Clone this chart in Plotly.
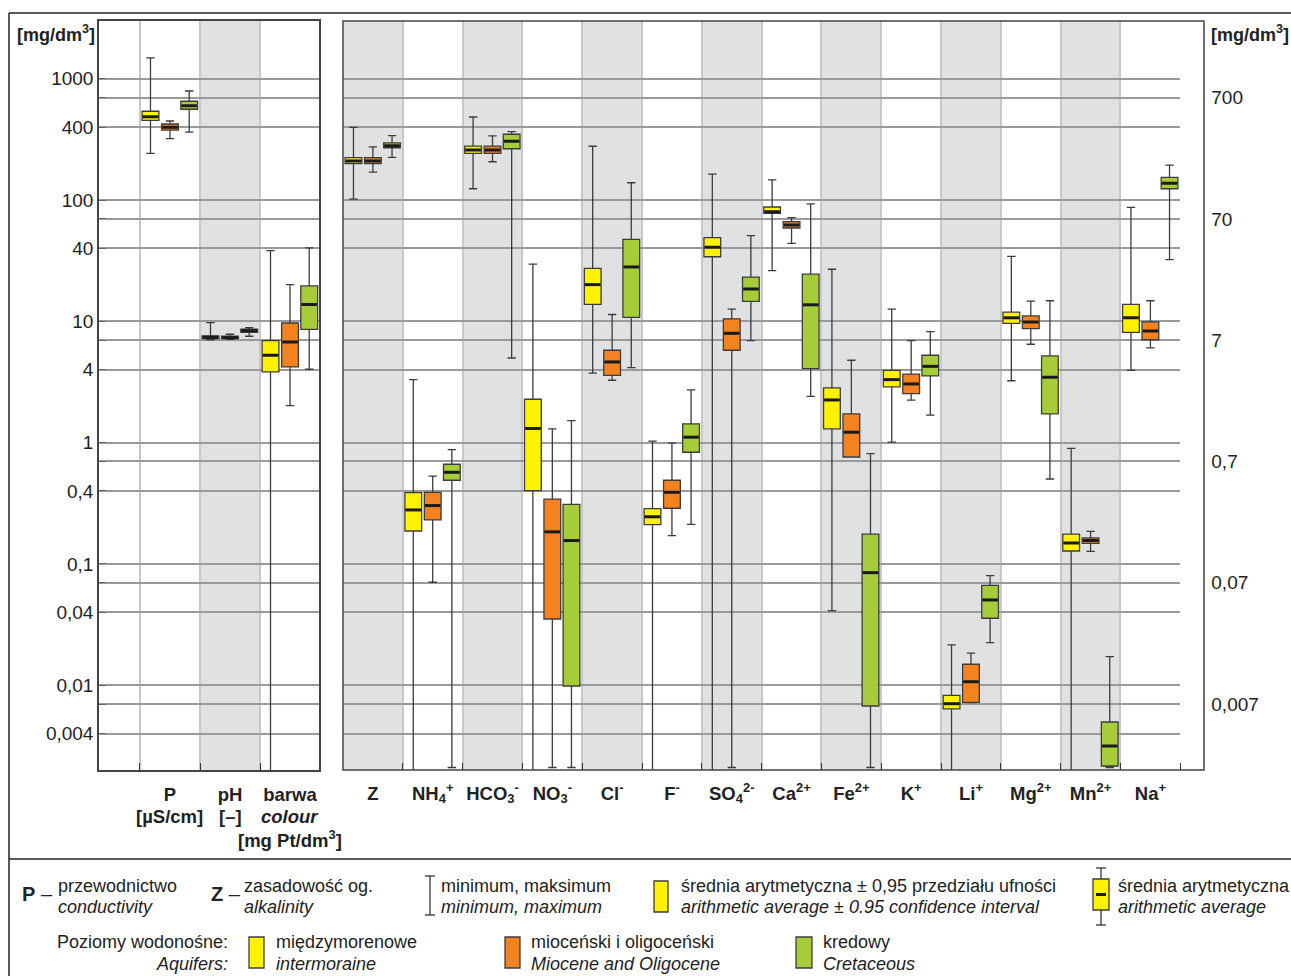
import plotly.graph_objects as go

W, H = 1291, 976

def px(x):
    return x / W

def py(y):
    return 1 - y / H

FONT = "Liberation Sans, Arial, Helvetica, sans-serif"

# ---------------- DATA ----------------
left_cats = ["P", "pH", "barwa"]
right_cats = ["Z", "NH<sub>4</sub><sup>+</sup>", "HCO<sub>3</sub><sup>-</sup>", "NO<sub>3</sub><sup>-</sup>",
              "Cl<sup>-</sup>", "F<sup>-</sup>", "SO<sub>4</sub><sup>2-</sup>", "Ca<sup>2+</sup>",
              "Fe<sup>2+</sup>", "K<sup>+</sup>", "Li<sup>+</sup>", "Mg<sup>2+</sup>",
              "Mn<sup>2+</sup>", "Na<sup>+</sup>"]

# intermoraine aquifers (yellow)
int_left_min = [243, 7.05, 0]
int_left_lo = [455, 7.2, 3.83]
int_left_mean = [487, 7.4, 5.26]
int_left_hi = [540, 7.6, 6.93]
int_left_max = [1490, 9.76, 38.3]

int_right_min = [102, 0, 124, 0, 3.75, 0, 0, 26.2, 0.0412, 1.01, 0, 3.24, 0, 3.95]
int_right_lo = [200, 0.187, 243, 0.402, 13.8, 0.211, 34.1, 77.8, 1.30, 2.88, 0.00638, 9.64, 0.128, 8.13]
int_right_mean = [210, 0.279, 259, 1.31, 20.1, 0.245, 40.8, 80.2, 2.25, 3.31, 0.00705, 10.7, 0.149, 10.7]
int_right_hi = [224, 0.387, 279, 2.28, 27.4, 0.286, 49.0, 87.7, 2.83, 3.95, 0.00827, 11.9, 0.176, 13.8]
int_right_max = [398, 3.31, 484, 29.7, 278, 1.03, 164, 147, 26.9, 12.6, 0.0215, 34.4, 0.899, 87.2]

# Miocene and Oligocene aquifers (orange)
mio_left_min = [321, 7.1, 2.02]
mio_left_lo = [378, 7.2, 4.21]
mio_left_mean = [398, 7.35, 6.76]
mio_left_hi = [424, 7.55, 9.7]
mio_left_max = [449, 7.83, 20.1]

mio_right_min = [170, 0.0707, 207, 0.0021, 3.27, 0.171, 0.0021, 44.0, 0.762, 2.24, 0.0072, 6.48, 0.127, 6.04]
mio_right_lo = [200, 0.231, 243, 0.0352, 3.59, 0.288, 5.78, 58.9, 0.762, 2.54, 0.00724, 8.71, 0.148, 7.06]
mio_right_mean = [210, 0.303, 259, 0.184, 4.63, 0.390, 7.98, 62.4, 1.22, 3.05, 0.0107, 9.89, 0.156, 8.34]
mio_right_hi = [224, 0.390, 279, 0.343, 5.78, 0.490, 10.5, 66.4, 1.73, 3.68, 0.0149, 11.1, 0.164, 9.89]
mio_right_max = [275, 0.531, 338, 1.30, 11.4, 0.99, 12.6, 71.6, 4.78, 6.93, 0.0184, 14.7, 0.186, 14.8]

# Cretaceous aquifer (green)
cre_left_min = [364, 7.54, 4.03]
cre_left_lo = [561, 8.13, 8.6]
cre_left_mean = [600, 8.38, 13.8]
cre_left_hi = [653, 8.65, 19.6]
cre_left_max = [793, 8.87, 40.3]

cre_right_min = [225, 0.0021, 4.99, 0.0021, 4.15, 0.212, 6.93, 2.41, 0.0021, 1.69, 0.0225, 0.502, 0.0021, 32.3]
cre_right_lo = [270, 0.490, 265, 0.00986, 10.8, 0.834, 14.6, 4.08, 0.00675, 3.55, 0.0357, 1.73, 0.00216, 124]
cre_right_mean = [281, 0.570, 305, 0.156, 28.1, 1.11, 18.5, 13.7, 0.0848, 4.26, 0.0505, 3.46, 0.00316, 138]
cre_right_hi = [296, 0.664, 349, 0.310, 47.5, 1.43, 23.2, 24.5, 0.176, 5.26, 0.0667, 5.19, 0.00498, 154]
cre_right_max = [340, 0.875, 367, 1.52, 139, 2.72, 50.9, 92.9, 0.812, 8.22, 0.0801, 14.8, 0.0172, 194]

left_tick_vals = [1000, 400, 100, 40, 10, 4, 1, 0.4, 0.1, 0.04, 0.01, 0.004]
left_tick_text = ["1000", "400", "100", "40", "10", "4", "1", "0,4", "0,1", "0,04", "0,01", "0,004"]
right_tick_vals = [700, 70, 7, 0.7, 0.07, 0.007]
right_tick_text = ["700", "70", "7", "0,7", "0,07", "0,007"]

# ---------------- STYLE ----------------
YELLOW, ORANGE, GREEN = "#fff200", "#f4821f", "#a6cd39"
SHADE = "#e0e1e3"
HGRID = "#9a9a9a"
VGRID = "#c8c8c8"
EDGE = "#444444"

series = [
    (YELLOW, -0.325, (int_left_min, int_left_lo, int_left_mean, int_left_hi, int_left_max),
     (int_right_min, int_right_lo, int_right_mean, int_right_hi, int_right_max)),
    (ORANGE, 0.0, (mio_left_min, mio_left_lo, mio_left_mean, mio_left_hi, mio_left_max),
     (mio_right_min, mio_right_lo, mio_right_mean, mio_right_hi, mio_right_max)),
    (GREEN, 0.32, (cre_left_min, cre_left_lo, cre_left_mean, cre_left_hi, cre_left_max),
     (cre_right_min, cre_right_lo, cre_right_mean, cre_right_hi, cre_right_max)),
]

FLOOR = 1e-6  # zero minimum values drawn below the axis

fig = go.Figure()

for color, off, left, right in series:
    for (mn, lo, me, hi, mx), xa, ya in ((left, "x", "y"), (right, "x2", "y2")):
        xs = [i + off for i in range(len(me))]
        fig.add_trace(go.Box(
            x=xs, q1=lo, median=me, q3=hi,
            lowerfence=[v if v > 0 else FLOOR for v in mn], upperfence=mx,
            orientation="v", width=0.28, whiskerwidth=0.5, boxpoints=False,
            fillcolor=color, line=dict(color="#3c3c3c", width=1.3),
            xaxis=xa, yaxis=ya, showlegend=False, hoverinfo="skip"))
        fig.add_trace(go.Scatter(
            x=xs, y=me, mode="markers",
            marker=dict(symbol="line-ew", size=11, color="#1a1a1a",
                        line=dict(width=3, color="#1a1a1a")),
            xaxis=xa, yaxis=ya, showlegend=False, hoverinfo="skip"))

YR = [-2.6985, 3.4765]
YDOM = [py(770), py(21)]

tickfont = dict(family=FONT, size=19, color="#222")
catfont = dict(family=FONT, size=18.5, color="#222")

fig.update_layout(
    width=W, height=H,
    margin=dict(l=0, r=0, t=0, b=0),
    paper_bgcolor="white", plot_bgcolor="white",
    boxmode="overlay",
    font=dict(family=FONT, color="#222"),
    xaxis=dict(domain=[px(99), px(319.3)], range=[-1.183, 2.488], anchor="y",
               tickmode="array", tickvals=[0, 1, 2],
               ticktext=["<b>%s</b>" % c for c in left_cats], tickfont=catfont,
               ticks="", showgrid=False, zeroline=False, ticklabelstandoff=7,
               showline=True, linecolor=EDGE, linewidth=1.5, mirror=True,
               minor=dict(tickmode="array", tickvals=[-0.5, 0.5, 1.5], showgrid=True,
                          gridcolor=VGRID, gridwidth=1.5, ticks="inside", ticklen=7,
                          tickcolor="#333", tickwidth=1.3)),
    yaxis=dict(type="log", domain=YDOM, range=YR, anchor="x",
               tickmode="array", tickvals=left_tick_vals, ticktext=left_tick_text,
               tickfont=tickfont, ticks="inside", ticklen=7, tickcolor="#666", tickwidth=1.2,
               showgrid=True, gridcolor=HGRID, gridwidth=1.5, zeroline=False,
               showline=True, linecolor=EDGE, linewidth=1.5, mirror=True,
               minor=dict(tickmode="array", tickvals=right_tick_vals, showgrid=True,
                          gridcolor=HGRID, gridwidth=1.5, ticks="inside", ticklen=7,
                          tickcolor="#666", tickwidth=1.2)),
    xaxis2=dict(domain=[px(343), px(1180.3)], range=[-0.5, 13.5], anchor="y2",
                tickmode="array", tickvals=list(range(14)),
                ticktext=["<b>%s</b>" % c for c in right_cats], tickfont=catfont,
                ticks="", showgrid=False, zeroline=False, showline=False, ticklabelstandoff=10,
                minor=dict(tickmode="array", tickvals=[i + 0.5 for i in range(14)], showgrid=True,
                           gridcolor=VGRID, gridwidth=1.5, ticks="inside", ticklen=7,
                           tickcolor="#333", tickwidth=1.3)),
    yaxis2=dict(type="log", domain=YDOM, range=YR, anchor="x2", side="right",
                tickmode="array", tickvals=right_tick_vals, ticktext=right_tick_text,
                tickfont=tickfont, ticks="", ticklabelstandoff=30,
                showgrid=True, gridcolor=HGRID, gridwidth=1.5, zeroline=False, showline=False,
                minor=dict(tickmode="array", tickvals=left_tick_vals, showgrid=True,
                           gridcolor=HGRID, gridwidth=1.5, ticks="")),
)

shapes = []
# shaded category bands
shapes.append(dict(type="rect", xref="x", yref="y domain", x0=0.5, x1=1.5, y0=0, y1=1,
                   fillcolor=SHADE, line=dict(width=0), layer="below"))
for i in range(0, 14, 2):
    shapes.append(dict(type="rect", xref="x2", yref="y2 domain", x0=i - 0.5, x1=i + 0.5, y0=0, y1=1,
                       fillcolor=SHADE, line=dict(width=0), layer="below"))
# right panel frame (extends past the grid area)
shapes.append(dict(type="rect", xref="paper", yref="paper", x0=px(343), x1=px(1204),
                   y0=py(770), y1=py(21), line=dict(color=EDGE, width=1.5), layer="above"))
# outer frame lines
for (x0, y0, x1, y1) in [(9, 13, 1291, 13), (9, 13, 9, 976), (9, 859, 1291, 859)]:
    shapes.append(dict(type="line", xref="paper", yref="paper", x0=px(x0), y0=py(y0),
                       x1=px(x1), y1=py(y1), line=dict(color="#222", width=1.5)))

# legend symbols
def pline(x0, y0, x1, y1, color="#333", width=1.3):
    shapes.append(dict(type="line", xref="paper", yref="paper", x0=px(x0), y0=py(y0),
                       x1=px(x1), y1=py(y1), line=dict(color=color, width=width)))

def prect(x0, y0, x1, y1, fill):
    shapes.append(dict(type="rect", xref="paper", yref="paper", x0=px(x0), y0=py(y1),
                       x1=px(x1), y1=py(y0), fillcolor=fill, line=dict(color="#3c3c3c", width=1.3)))

# min/max whisker symbol
pline(430, 876, 430, 915)
pline(425, 876, 435, 876)
pline(425, 915, 435, 915)
# confidence box symbol
prect(654, 881, 668, 912, YELLOW)
# full symbol
pline(1101, 868, 1101, 925)
pline(1096, 868, 1106, 868)
pline(1096, 925, 1106, 925)
prect(1093, 879, 1109, 910, YELLOW)
pline(1096, 894.5, 1106, 894.5, color="#1a1a1a", width=3)
# aquifer swatches
prect(249, 937, 264, 968, YELLOW)
prect(505, 937, 520, 968, ORANGE)
prect(796, 937, 812, 968, GREEN)

fig.update_layout(shapes=shapes)

ann = []

def text(x, y, s, size=18, xanchor="left", xref="paper"):
    ann.append(dict(x=(px(x) if xref == "paper" else x), y=py(y), xref=xref, yref="paper",
                    text=s, showarrow=False, xanchor=xanchor, yanchor="middle",
                    font=dict(family=FONT, size=size, color="#222")))

# axis unit titles
text(56, 33, "<b>[mg/dm<sup>3</sup>]</b>", size=18, xanchor="center")
text(1250, 33, "<b>[mg/dm<sup>3</sup>]</b>", size=18, xanchor="center")

# second lines of left-panel category labels
text(0, 816, "<b>[µS/cm]</b>", size=18.5, xanchor="center", xref="x")
text(1, 816, "<b>[–]</b>", size=18.5, xanchor="center", xref="x")
text(2, 816, "<b><i>colour</i></b>", size=18.5, xanchor="center", xref="x")
text(2, 839, "<b>[mg Pt/dm<sup>3</sup>]</b>", size=18.5, xanchor="center", xref="x")

# legend texts
text(20, 894, "<b>P</b> –", size=20)
text(56, 886, "przewodnictwo")
text(56, 907, "<i>conductivity</i>")
text(209, 894, "<b>Z</b> –", size=20)
text(242, 886, "zasadowość og.")
text(242, 907, "<i>alkalinity</i>")
text(439, 886, "minimum, maksimum")
text(439, 907, "<i>minimum, maximum</i>")
text(679, 886, "średnia arytmetyczna ± 0,95 przedziału ufności")
text(679, 907, "<i>arithmetic average ± 0.95 confidence interval</i>")
text(1116, 886, "średnia arytmetyczna")
text(1116, 907, "<i>arithmetic average</i>")
text(230, 942, "Poziomy wodonośne:", xanchor="right")
text(230, 964, "<i>Aquifers:</i>", xanchor="right")
text(274, 942, "międzymorenowe")
text(274, 964, "<i>intermoraine</i>")
text(529, 942, "mioceński i oligoceński")
text(529, 964, "<i>Miocene and Oligocene</i>")
text(821, 942, "kredowy")
text(821, 964, "<i>Cretaceous</i>")

fig.update_layout(annotations=ann)

fig.write_html("out.html", config={"displayModeBar": False},
               post_script="document.body.style.margin='0px';")
